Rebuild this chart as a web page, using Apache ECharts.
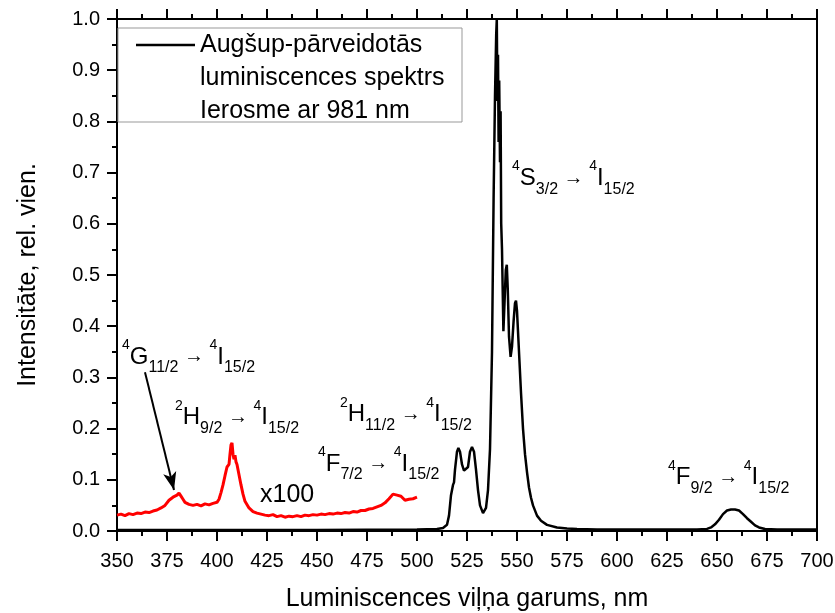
<!DOCTYPE html>
<html><head><meta charset="utf-8">
<script src="https://cdn.jsdelivr.net/npm/echarts@6/dist/echarts.min.js"></script>
<style>html,body{margin:0;padding:0;background:#fff}#c{width:835px;height:613px}</style>
</head><body><div id="c"></div>
<script>
// Black spectrum (upconversion luminescence, excitation 981 nm)
const blackX = [350,400,450,500,510,513,515,516,517,518,518.5,519,520,520.7,521.5,522.5,523.5,524.5,525.5,526.5,527.5,528.5,529.5,530.5,531.5,533,534.5,535.5,536.5,537.5,538.3,539,539.6,539.9,540.2,540.5,540.8,541.1,541.5,541.8,542.1,542.5,543.2,543.8,544.4,544.9,545.4,546,546.8,547.5,548.3,549,549.5,550,551,552,553,554,555,556,557,558,560,562,565,570,575,580,590,600,620,640,645,647,649,651,653,655,657,659,661,663,665,667,669,671,674,680,700];
const blackY = [0.002,0.002,0.002,0.003,0.004,0.006,0.012,0.03,0.07,0.09,0.095,0.12,0.155,0.162,0.155,0.13,0.118,0.115,0.125,0.155,0.164,0.155,0.12,0.08,0.05,0.035,0.045,0.08,0.16,0.35,0.65,0.85,0.97,1.0,0.84,0.93,0.76,0.88,0.72,0.82,0.6,0.55,0.39,0.45,0.51,0.52,0.47,0.38,0.34,0.36,0.41,0.445,0.45,0.43,0.35,0.27,0.2,0.15,0.115,0.085,0.065,0.05,0.03,0.02,0.012,0.007,0.005,0.004,0.003,0.003,0.003,0.003,0.004,0.007,0.013,0.022,0.033,0.04,0.042,0.042,0.04,0.033,0.025,0.018,0.011,0.007,0.004,0.003,0.003];
// Red spectrum (x100)
const redX = [350,352,354,356,358,360,362,364,366,368,370,372,374,376,378,379,380,381,382,383,384,386,388,390,392,394,396,398,400,401,402,403,404,405,406,406.5,407,407.5,408,408.5,409,409.5,410,411,412,413,414,416,418,420,422,424,426,428,430,432,434,436,438,440,442,444,446,448,450,452,454,456,458,460,462,464,466,468,470,472,474,476,478,480,482,484,486,488,489,490,491,492,493,494,495,496,497,498,499,500];
const redY = [0.031,0.033,0.030,0.034,0.032,0.035,0.034,0.037,0.036,0.039,0.041,0.045,0.050,0.060,0.066,0.064,0.070,0.074,0.068,0.062,0.056,0.052,0.050,0.052,0.049,0.053,0.051,0.054,0.056,0.062,0.075,0.090,0.108,0.125,0.130,0.150,0.168,0.172,0.150,0.140,0.148,0.135,0.130,0.110,0.090,0.072,0.058,0.045,0.038,0.035,0.033,0.031,0.030,0.032,0.028,0.030,0.027,0.029,0.028,0.030,0.028,0.031,0.030,0.032,0.031,0.033,0.032,0.034,0.033,0.035,0.034,0.036,0.035,0.038,0.037,0.040,0.040,0.043,0.044,0.047,0.050,0.055,0.063,0.072,0.075,0.070,0.073,0.068,0.066,0.060,0.058,0.062,0.059,0.063,0.064,0.066];

const legendLines = ['Augšup-pārveidotās','luminiscences spektrs','Ierosme ar 981 nm'];
const xName = 'Luminiscences viļņa garums, nm';
const yName = 'Intensitāte, rel. vien.';
// annotations: [leftX(nm), centerY(value), richText]
const annotations = [
  [352.5, 0.34, '{sup|4}{m|G}{sub|11/2}{a| → }{sup|4}{m|I}{sub|15/2}'],
  [379, 0.221, '{sup|2}{m|H}{sub|9/2}{a| → }{sup|4}{m|I}{sub|15/2}'],
  [461.5, 0.227, '{sup|2}{m|H}{sub|11/2}{a| → }{sup|4}{m|I}{sub|15/2}'],
  [450.5, 0.131, '{sup|4}{m|F}{sub|7/2}{a| → }{sup|4}{m|I}{sub|15/2}'],
  [421.5, 0.07, '{x|x100}'],
  [547.5, 0.689, '{sup|4}{m|S}{sub|3/2}{a| → }{sup|4}{m|I}{sub|15/2}'],
  [625.5, 0.104, '{sup|4}{m|F}{sub|9/2}{a| → }{sup|4}{m|I}{sub|15/2}']
];
const arrowFrom = [364, 0.31];
const arrowTo = [378.5, 0.08];

const FF = 'Liberation Sans, Arial, sans-serif';
const chart = echarts.init(document.getElementById('c'), null, {renderer:'canvas'});
const axisCommon = {
  type:'value', splitLine:{show:false},
  axisLine:{show:true, onZero:false, lineStyle:{color:'#000', width:2}},
  axisTick:{show:true, inside:false, length:10, lineStyle:{color:'#000', width:2}},
  minorTick:{show:true, splitNumber:2, length:5, lineStyle:{color:'#000', width:2}}
};
chart.setOption({
  animation:false,
  backgroundColor:'#fff',
  grid:{left:117, right:18, top:19, bottom:82, containLabel:false, outerBoundsMode:'none'},
  xAxis:[
    Object.assign({}, axisCommon, {position:'bottom', min:350, max:700, interval:25,
      axisLabel:{fontSize:20, color:'#000', fontFamily:FF, margin:20},
      name:xName, nameLocation:'middle', nameGap:56,
      nameTextStyle:{fontSize:25, color:'#000', fontFamily:FF}}),
    Object.assign({}, axisCommon, {position:'top', min:350, max:700, interval:25,
      axisLabel:{show:false}})
  ],
  yAxis:[
    Object.assign({}, axisCommon, {position:'left', min:0, max:1, interval:0.1,
      axisLabel:{fontSize:20, color:'#000', fontFamily:FF, margin:17,
        formatter:v=>v.toFixed(1)},
      name:yName, nameLocation:'middle', nameGap:76,
      nameTextStyle:{fontSize:25, color:'#000', fontFamily:FF}}),
    {type:'value', position:'right', min:0, max:1, splitLine:{show:false},
      axisLine:{show:true, lineStyle:{color:'#000', width:2}},
      axisTick:{show:false}, axisLabel:{show:false}}
  ],
  series:[
    {type:'line', name:'black', data:blackX.map((x,i)=>[x,blackY[i]]), showSymbol:false,
      lineStyle:{color:'#000', width:2.5}, z:3},
    {type:'line', name:'red', data:redX.map((x,i)=>[x,redY[i]]), showSymbol:false,
      lineStyle:{color:'#ff0000', width:3}, z:4,
      markLine:{silent:true, symbol:['none','arrow'], symbolSize:[10,18],
        lineStyle:{color:'#000', width:2, type:'solid'}, label:{show:false},
        data:[[{coord:arrowFrom},{coord:arrowTo}]]}}
  ]
});

const rich = {
  m:{fontSize:24, fontFamily:FF, color:'#000', lineHeight:38},
  x:{fontSize:25, fontFamily:FF, color:'#000', lineHeight:30},
  sup:{fontSize:14, fontFamily:FF, color:'#000', lineHeight:17, verticalAlign:'top'},
  sub:{fontSize:16, fontFamily:FF, color:'#000', lineHeight:18, verticalAlign:'bottom'},
  a:{fontSize:20, fontFamily:FF, color:'#000', lineHeight:38}
};
const graphics = annotations.map(a=>{
  const p = chart.convertToPixel({xAxisIndex:0, yAxisIndex:0}, [a[0], a[1]]);
  return {type:'text', x:p[0], y:p[1], z:10,
    style:{text:a[2], rich:rich, align:'left', verticalAlign:'middle'}};
});
graphics.push({type:'rect', shape:{x:118, y:28, width:344, height:94}, z:9,
  style:{fill:'#fff', stroke:'#999', lineWidth:1}});
graphics.push({type:'line', shape:{x1:136, y1:45, x2:195, y2:45}, z:10,
  style:{stroke:'#000', lineWidth:2.5}});
graphics.push({type:'text', x:200, y:28.5, z:10,
  style:{text:legendLines.join('\n'), fontSize:25, fontFamily:FF, fill:'#000',
    lineHeight:33, align:'left', verticalAlign:'top'}});
chart.setOption({graphic:graphics});
</script>
</body></html>
